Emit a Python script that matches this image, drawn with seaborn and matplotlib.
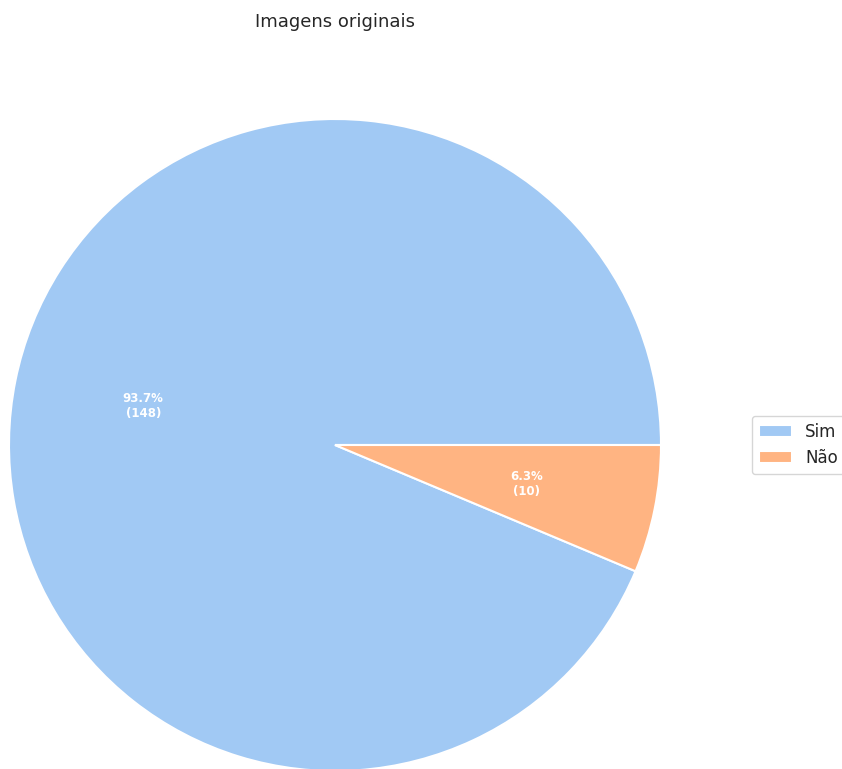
import matplotlib
matplotlib.use("Agg")
import matplotlib.pyplot as plt
import seaborn as sns

labels = ["Sim", "Não"]
counts = [148, 10]
title = "Imagens originais"

sns.set_theme(style="white")
colors = sns.color_palette("pastel")[:len(labels)]

W, H = 842, 769
fig = plt.figure(figsize=(W / 100, H / 100), dpi=100)
ax = fig.add_axes([9 / W, -2 / H, 652 / W, 652 / H])

total = sum(counts)

def fmt(p):
    return f"{p:.1f}%\n({int(round(p * total / 100))})"

wedges, texts, autotexts = ax.pie(
    counts, labels=None, colors=colors, autopct=fmt,
    startangle=0, counterclock=True,
    wedgeprops=dict(edgecolor="white", linewidth=1.5),
    textprops=dict(color="white", fontsize=8.5, fontweight="bold"),
)
ax.set_xlim(-1, 1)
ax.set_ylim(-1, 1)
ax.set_aspect("equal")
ax.set_title(title, fontsize=13, pad=66, color="#262626")
fig.legend(wedges, labels, loc="center left",
           bbox_to_anchor=(752 / W, (H - 445) / H), bbox_transform=fig.transFigure,
           borderaxespad=0, fontsize=12)
fig.savefig("out.png", dpi=100)
